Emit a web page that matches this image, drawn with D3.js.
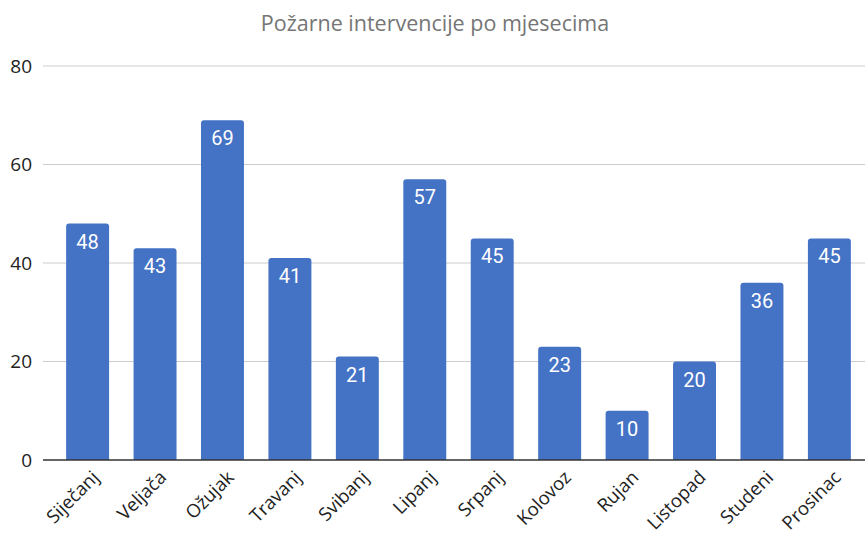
<!DOCTYPE html>
<html>
<head>
<meta charset="utf-8">
<script src="https://cdn.jsdelivr.net/npm/d3@7"></script>
<style>
  body { margin: 0; background: #fff; }
  svg { display: block; }
</style>
</head>
<body>
<div id="vis"></div>
<script>
// chart data
var months = ["Siječanj", "Veljača", "Ožujak", "Travanj", "Svibanj", "Lipanj",
              "Srpanj", "Kolovoz", "Rujan", "Listopad", "Studeni", "Prosinac"];
var counts = [48, 43, 69, 41, 21, 57, 45, 23, 10, 20, 36, 45];
var yTicks = [0, 20, 40, 60, 80];
var title = "Požarne intervencije po mjesecima";

var width = 865;
var height = 533;
var barColor = "#4472c4";

var svg = d3.select("#vis")
  .append("svg")
  .attr("width", width)
  .attr("height", height);

var x = d3.scaleBand()
  .domain(months)
  .range([54, 863])
  .paddingInner(0.363)
  .paddingOuter(0.18);

var y = d3.scaleLinear()
  .domain([0, 80])
  .range([460, 66]);

svg.append("text")
  .attr("x", 435)
  .attr("y", 31)
  .attr("text-anchor", "middle")
  .attr("font-family", "Open Sans, sans-serif")
  .attr("font-size", 21.5)
  .attr("fill", "#757575")
  .text(title);

// gridlines
svg.selectAll(".grid")
  .data(yTicks.filter(function (d) { return d > 0; }))
  .enter().append("line")
  .attr("x1", 43)
  .attr("x2", 865)
  .attr("y1", function (d) { return y(d); })
  .attr("y2", function (d) { return y(d); })
  .attr("stroke", "#cccccc")
  .attr("stroke-width", 1);

svg.selectAll(".ytick")
  .data(yTicks)
  .enter().append("text")
  .attr("x", 32)
  .attr("y", function (d) { return y(d); })
  .attr("dy", "0.36em")
  .attr("text-anchor", "end")
  .attr("font-family", "Open Sans, sans-serif")
  .attr("font-size", 19)
  .attr("fill", "#222")
  .text(function (d) { return d; });

// bars with rounded tops
function barPath(d, i) {
  var x0 = x(months[i]);
  var w = x.bandwidth();
  var y0 = y(d);
  var y1 = y(0);
  var r = 3;
  return "M" + x0 + "," + y1 +
    "V" + (y0 + r) +
    "Q" + x0 + "," + y0 + " " + (x0 + r) + "," + y0 +
    "H" + (x0 + w - r) +
    "Q" + (x0 + w) + "," + y0 + " " + (x0 + w) + "," + (y0 + r) +
    "V" + y1 + "Z";
}

svg.selectAll(".bar")
  .data(counts)
  .enter().append("path")
  .attr("class", "bar")
  .attr("d", barPath)
  .attr("fill", barColor);

svg.selectAll(".val")
  .data(counts)
  .enter().append("text")
  .attr("x", function (d, i) { return x(months[i]) + x.bandwidth() / 2; })
  .attr("y", function (d) { return y(d) + 25; })
  .attr("text-anchor", "middle")
  .attr("font-family", "Roboto, sans-serif")
  .attr("font-size", 20)
  .attr("fill", "#fff")
  .text(function (d) { return d; });

// zero line
svg.append("line")
  .attr("x1", 43)
  .attr("x2", 865)
  .attr("y1", y(0))
  .attr("y2", y(0))
  .attr("stroke", "#333")
  .attr("stroke-width", 1.5);

svg.selectAll(".xlab")
  .data(months)
  .enter().append("text")
  .attr("transform", function (d) {
    return "translate(" + (x(d) + x.bandwidth() / 2 + 8) + "," + 474 + ") rotate(-45)";
  })
  .attr("text-anchor", "end")
  .attr("dy", "0.35em")
  .attr("font-family", "Open Sans, sans-serif")
  .attr("font-size", 18.5)
  .attr("fill", "#222")
  .text(function (d) { return d; });
</script>
</body>
</html>
